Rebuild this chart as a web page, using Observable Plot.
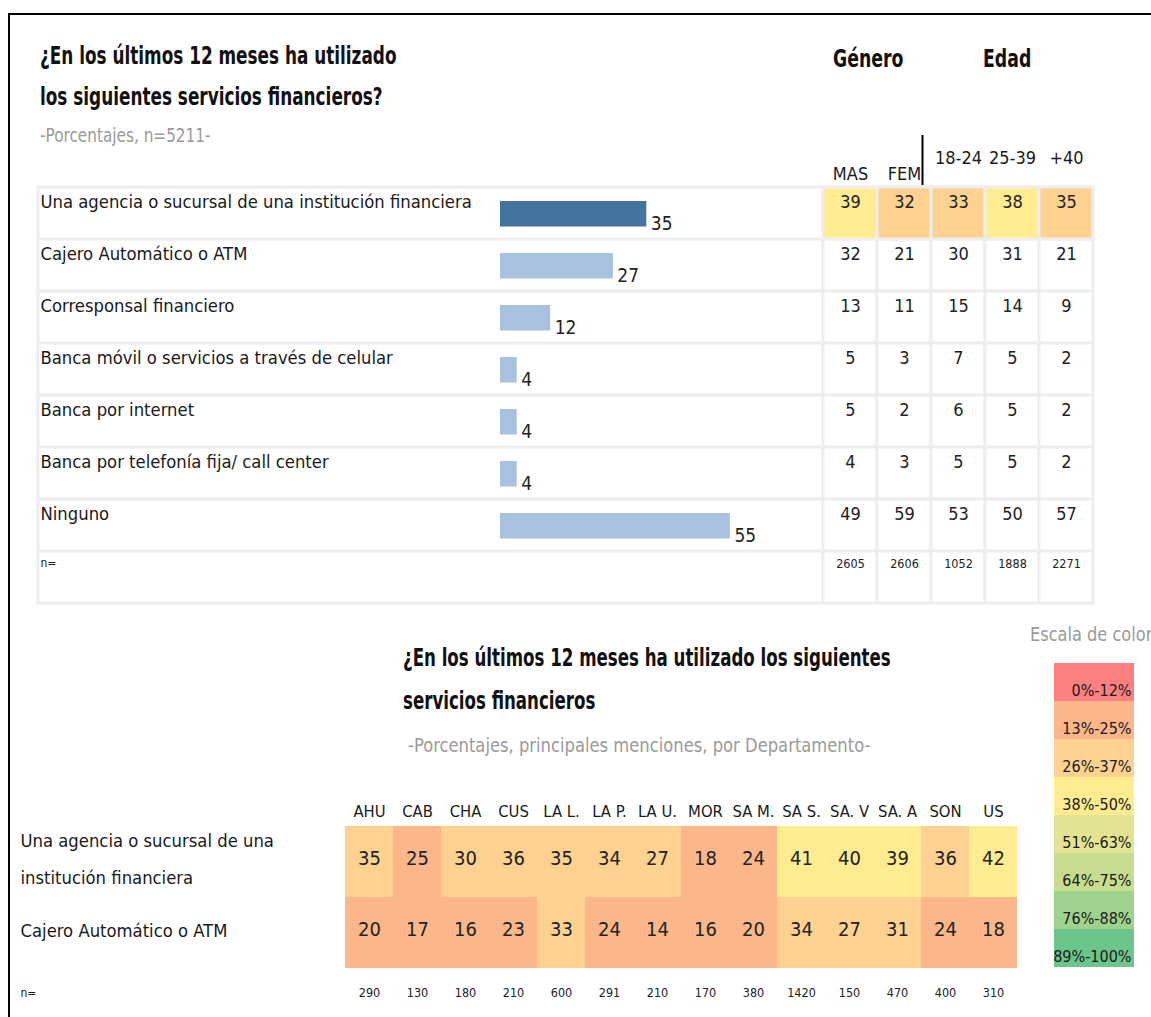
<!DOCTYPE html>
<html>
<head>
<meta charset="utf-8">
<script src="https://cdn.jsdelivr.net/npm/d3@7"></script>
<script src="https://cdn.jsdelivr.net/npm/@observablehq/plot@0.6"></script>
<style>
  body { margin: 0; background: #fff; }
  #root { position: relative; width: 1151px; height: 1017px; overflow: hidden; background: #fff;
    font-family: "Liberation Sans Narrow", "DejaVu Sans Condensed", "DejaVu Sans", sans-serif; font-stretch: condensed; color: #1a1a1a; }
  .abs { position: absolute; white-space: nowrap; transform-origin: left top; }
  .title { font-weight: bold; font-size: 25px; line-height: 41px; color: #111; }
  .sub { font-size: 20px; color: #9a9a9a; }
  .frame { position: absolute; left: 8px; top: 13px; right: -10px; bottom: -10px; border-left: 2px solid #000; border-top: 2px solid #000; }
  svg { overflow: visible; }
</style>
</head>
<body>
<div id="root">
  <div class="frame"></div>
  <div class="abs title" style="left:40px; top:35px; transform: scaleX(0.75);">¿En los últimos 12 meses ha utilizado<br>los siguientes servicios financieros?</div>
  <div class="abs sub" style="left:40px; top:123px; transform: scaleX(0.85);">-Porcentajes, n=5211-</div>
  <div class="abs title" style="left:833px; top:38px; transform: scaleX(0.77);">Género</div>
  <div class="abs title" style="left:983px; top:38px; transform: scaleX(0.77);">Edad</div>
  <div class="abs title" style="left:403px; top:636px; line-height:43px; transform: scaleX(0.74);">¿En los últimos 12 meses ha utilizado los siguientes<br>servicios financieros</div>
  <div class="abs sub" style="left:408px; top:733px; transform: scaleX(0.91);">-Porcentajes, principales menciones, por Departamento-</div>
  <div class="abs sub" style="left:1030px; top:622px; transform: scaleX(0.9);">Escala de color</div>
</div>
<script>
// ---------- DATA ----------
const services = [
  "Una agencia o sucursal de una institución financiera",
  "Cajero Automático o ATM",
  "Corresponsal financiero",
  "Banca móvil o servicios a través de celular",
  "Banca por internet",
  "Banca por telefonía fija/ call center",
  "Ninguno"
];
const totals = [35, 27, 12, 4, 4, 4, 55];

const segments = ["MAS", "FEM", "18-24", "25-39", "+40"];
const genderSegments = ["MAS", "FEM"];
const ageSegments = ["18-24", "25-39", "+40"];
const masValues  = [39, 32, 13, 5, 5, 4, 49];
const femValues  = [32, 21, 11, 3, 2, 3, 59];
const age1824    = [33, 30, 15, 7, 6, 5, 53];
const age2539    = [38, 31, 14, 5, 5, 5, 50];
const age40      = [35, 21, 9, 2, 2, 2, 57];
const segmentN   = [2605, 2606, 1052, 1888, 2271];

const departments = ["AHU","CAB","CHA","CUS","LA L.","LA P.","LA U.","MOR","SA M.","SA S.","SA. V","SA. A","SON","US"];
const deptServices = ["Una agencia o sucursal de una institución financiera", "Cajero Automático o ATM"];
const deptAgencia = [35, 25, 30, 36, 35, 34, 27, 18, 24, 41, 40, 39, 36, 42];
const deptCajero  = [20, 17, 16, 23, 33, 24, 14, 16, 20, 34, 27, 31, 24, 18];
const deptN       = [290, 130, 180, 210, 600, 291, 210, 170, 380, 1420, 150, 470, 400, 310];

const legendLabels = ["0%-12%","13%-25%","26%-37%","38%-50%","51%-63%","64%-75%","76%-88%","89%-100%"];
const thresholds = [13, 26, 38, 51, 64, 76, 89];
const scaleColors = ["#fd8080","#fbb689","#fdd190","#ffeb90","#e3e392","#c6dd90","#9fd28d","#6cc58b"];

// ---------- BUILD ----------
const root = document.getElementById("root");
const FONT = '"Liberation Sans Narrow", "DejaVu Sans Condensed", "DejaVu Sans", sans-serif';
const GRID = "#eeeeee";
const INK = "#1a1a1a";
const colorOpt = {type: "threshold", domain: thresholds, range: scaleColors};
const baseStyle = {fontFamily: FONT, background: "transparent", color: INK, fontStretch: "condensed"};

function place(el, left, top) {
  el.style.position = "absolute";
  el.style.left = left + "px";
  el.style.top = top + "px";
  root.appendChild(el);
}

const rowDomain = [...services, "n="];

// Panel A: labels + bars
const pxPerUnit = 4.18;
const barOrigin = 462;   // px from panel left to bar zero
const panelAWidth = 785;
const rowsA = services.map((s, i) => ({label: s, value: totals[i]}));
const plotA = Plot.plot({
  width: panelAWidth, height: 420, margin: 0,
  style: baseStyle,
  x: {domain: [-barOrigin / pxPerUnit, (panelAWidth - barOrigin) / pxPerUnit], axis: null},
  y: {type: "band", domain: rowDomain, padding: 0, axis: null},
  marks: [
    Plot.cell(rowDomain, {y: d => d, fill: "white", stroke: GRID, strokeWidth: 3}),
    Plot.barX(rowsA.slice(0, 1), {x: "value", y: "label", fill: "#44739f", insetTop: 14, insetBottom: 12.5}),
    Plot.barX(rowsA.slice(1), {x: "value", y: "label", fill: "#a7c1df", insetTop: 14, insetBottom: 12.5}),
    Plot.text(rowsA, {x: "value", y: "label", text: d => String(d.value), textAnchor: "start", dx: 4, dy: 10, fontSize: 19, fill: "#222"}),
    Plot.text(services, {y: d => d, text: d => d, frameAnchor: "left", textAnchor: "start", dx: 2, dy: -11, fontSize: 18.3, fill: INK}),
    Plot.text(["n="], {y: d => d, text: d => d, frameAnchor: "left", textAnchor: "start", dx: 2, dy: -14, fontSize: 12, fill: INK})
  ]
});
place(plotA, 38, 185);

// Panel B header
const plotB0 = Plot.plot({
  width: 270, height: 55, margin: 0,
  style: baseStyle,
  x: {type: "band", domain: segments, padding: 0, axis: null},
  marks: [
    Plot.text(genderSegments, {x: d => d, text: d => d, frameAnchor: "bottom", dy: -6, fontSize: 18, fill: INK}),
    Plot.text(ageSegments, {x: d => d, text: d => d, frameAnchor: "bottom", dy: -22, fontSize: 18, fill: INK}),
    Plot.ruleX(["18-24"], {dx: -36, stroke: "#000", strokeWidth: 2, insetTop: 5})
  ]
});
place(plotB0, 823, 130);

// Panel B cells
const segArrays = [masValues, femValues, age1824, age2539, age40];
const cellsB = [];
segments.forEach((seg, j) => services.forEach((s, i) => cellsB.push({seg, row: s, value: segArrays[j][i], first: i === 0})));
const nB = segments.map((seg, j) => ({seg, row: "n=", value: segmentN[j]}));
const plotB = Plot.plot({
  width: 270, height: 420, margin: 0,
  style: baseStyle,
  x: {type: "band", domain: segments, padding: 0, axis: null},
  y: {type: "band", domain: rowDomain, padding: 0, axis: null},
  color: colorOpt,
  marks: [
    Plot.cell([...cellsB, ...nB], {x: "seg", y: "row", fill: "white", stroke: GRID, strokeWidth: 3}),
    Plot.cell(cellsB.filter(d => d.first), {x: "seg", y: "row", fill: "value", stroke: GRID, strokeWidth: 3}),
    Plot.text(cellsB, {x: "seg", y: "row", text: d => String(d.value), dy: -11, fontSize: 18, fill: "#222"}),
    Plot.text(nB, {x: "seg", y: "row", text: d => String(d.value), dy: -14, fontSize: 12.5, fill: "#222"})
  ]
});
place(plotB, 823, 185);

// Panel C: departments heatmap
const cellsC = [];
departments.forEach((d, j) => {
  cellsC.push({dept: d, service: deptServices[0], value: deptAgencia[j]});
  cellsC.push({dept: d, service: deptServices[1], value: deptCajero[j]});
});
const nC = departments.map((d, j) => ({dept: d, value: deptN[j]}));
const plotC = Plot.plot({
  width: 1020, height: 237, marginLeft: 342, marginRight: 0, marginTop: 45, marginBottom: 49,
  style: baseStyle,
  x: {type: "band", domain: departments, padding: 0, axis: null},
  y: {type: "band", domain: deptServices, padding: 0, axis: null},
  color: colorOpt,
  marks: [
    Plot.cell(cellsC, {x: "dept", y: "service", fill: "value"}),
    Plot.text(cellsC, {x: "dept", y: "service", text: d => String(d.value), dy: -3, fontSize: 20, fill: "#222"}),
    Plot.text(departments, {x: d => d, text: d => d, frameAnchor: "top", dy: -20, fontSize: 16.5, fill: INK}),
    Plot.text(nC, {x: "dept", text: d => String(d.value), frameAnchor: "bottom", dy: 28, fontSize: 12.5, fill: "#222"}),
    Plot.text(["n="], {text: d => d, frameAnchor: "bottom-left", textAnchor: "start", dx: -322, dy: 28, fontSize: 12, fill: INK}),
    Plot.text(deptServices, {y: d => d, text: d => d, frameAnchor: "left", textAnchor: "start", dx: -322, dy: -8, lineWidth: 15, lineHeight: 2, fontSize: 18.3, fill: INK})
  ]
});
place(plotC, 0, 780);

// Panel D: colour scale legend
const legendLows = [0, ...thresholds];
const legendRows = legendLabels.map((l, i) => ({label: l, low: legendLows[i]}));
const plotD = Plot.plot({
  width: 80, height: 305, margin: 0,
  style: baseStyle,
  y: {type: "band", domain: legendLabels, padding: 0, axis: null},
  color: colorOpt,
  marks: [
    Plot.cell(legendRows, {y: "label", fill: "low"}),
    Plot.text(legendRows, {y: "label", text: "label", frameAnchor: "right", textAnchor: "end", dx: -3, dy: 8, fontSize: 16, fill: INK})
  ]
});
place(plotD, 1054, 662);
</script>
</body>
</html>
